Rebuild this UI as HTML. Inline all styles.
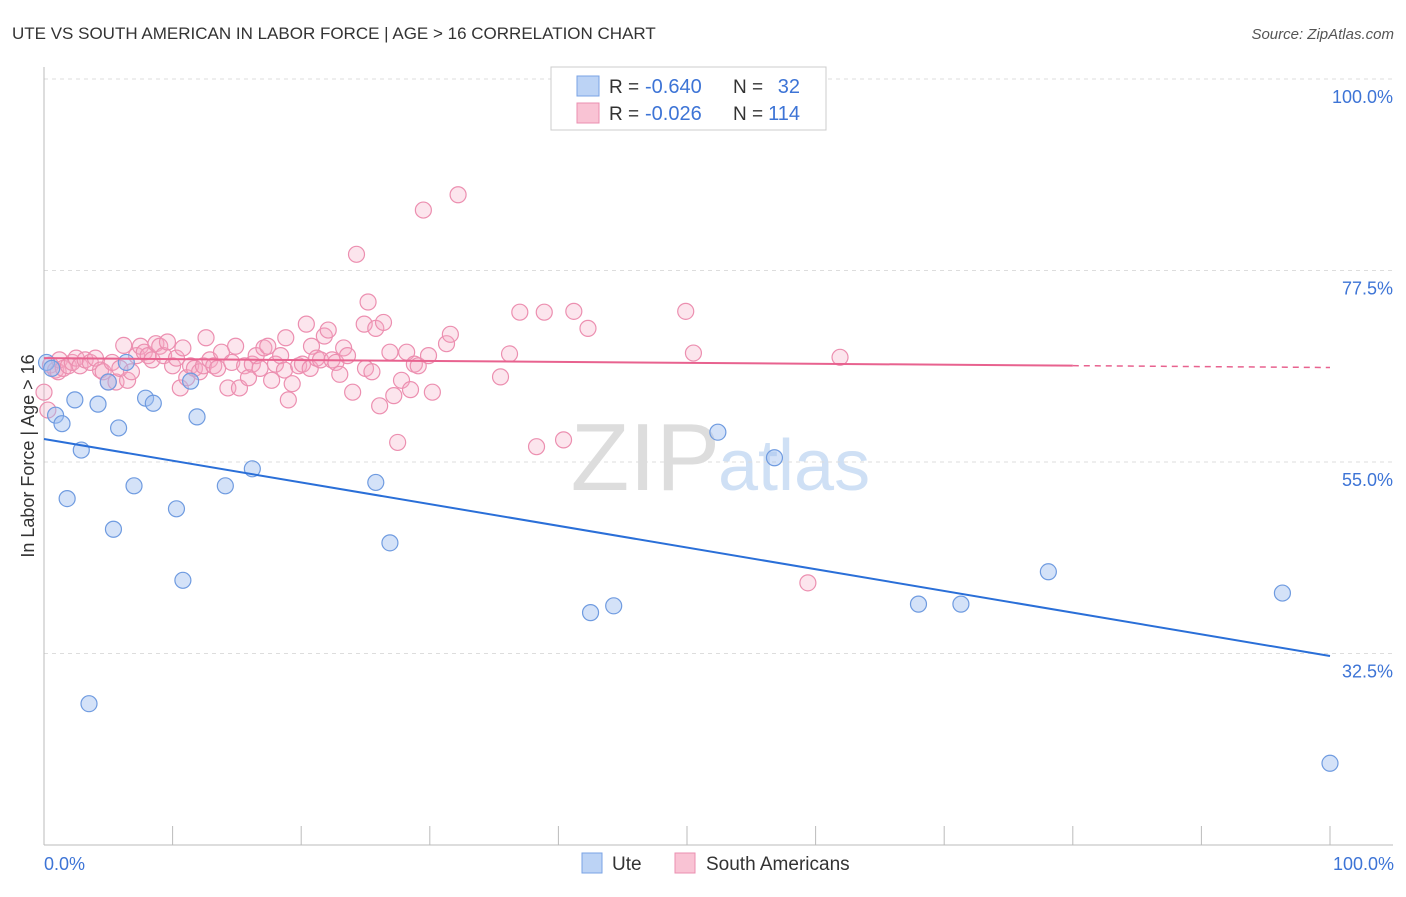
<!DOCTYPE html>
<html><head><meta charset="utf-8"><style>
body{margin:0;background:#fff;font-family:"Liberation Sans",sans-serif}
svg text{font-family:"Liberation Sans",sans-serif}
</style></head><body>
<svg id="chart" width="1406" height="892">
<text x="12" y="39" font-size="17" fill="#333">UTE VS SOUTH AMERICAN IN LABOR FORCE | AGE &gt; 16 CORRELATION CHART</text>
<text x="1394" y="39" font-size="15" fill="#555" font-style="italic" text-anchor="end">Source: ZipAtlas.com</text>
<text x="720" y="490" font-size="96" fill="#ddd" text-anchor="end" font-family="Liberation Serif">ZIP</text>
<text x="718" y="490" font-size="72" fill="#cfe0f5">atlas</text>
<g id="grid"></g><g id="axes"></g><g id="pts"></g><g id="trend"></g>
<text x="34" y="456" font-size="18" fill="#333" text-anchor="middle" transform="rotate(-90 34 456)">In Labor Force | Age &gt; 16</text>
<text x="44" y="870" font-size="18" fill="#3d74d6">0.0%</text>
<text x="1394" y="870" font-size="18" fill="#3d74d6" text-anchor="end">100.0%</text>
<g>
<rect x="551" y="67" width="275" height="63" fill="#fff" stroke="#ccc"/>
<rect x="577" y="76" width="22" height="20" fill="#bcd3f5" stroke="#7aa3e5"/>
<rect x="577" y="103" width="22" height="20" fill="#f9c3d4" stroke="#eb8fb0"/>
<text x="609" y="93" font-size="19" fill="#333">R =</text>
<text x="645" y="93" font-size="20" fill="#3d74d6">-0.640</text>
<text x="733" y="93" font-size="19" fill="#333">N =</text>
<text x="800" y="93" font-size="20" fill="#3d74d6" text-anchor="end">32</text>
<text x="609" y="120" font-size="19" fill="#333">R =</text>
<text x="645" y="120" font-size="20" fill="#3d74d6">-0.026</text>
<text x="733" y="120" font-size="19" fill="#333">N =</text>
<text x="800" y="120" font-size="20" fill="#3d74d6" text-anchor="end">114</text>
</g>
<g>
<rect x="582" y="853" width="20" height="20" fill="#bcd3f5" stroke="#7aa3e5"/>
<text x="612" y="870" font-size="19" fill="#333">Ute</text>
<rect x="675" y="853" width="20" height="20" fill="#f9c3d4" stroke="#eb8fb0"/>
<text x="706" y="870" font-size="19" fill="#333">South Americans</text>
</g>
</svg>
<script>
const yTicks=[100,77.5,55,32.5];
const yTickLabels=["100.0%","77.5%","55.0%","32.5%"];
const xTicks=[0,10,20,30,40,50,60,70,80,90,100];
const uteX=[0.2,0.6,0.9,1.4,1.8,2.4,2.9,3.5,4.2,5.0,5.4,5.8,6.4,7.0,7.9,8.5,10.3,10.8,11.4,11.9,14.1,16.2,25.8,26.9,42.5,44.3,52.4,56.8,68.0,71.3,78.1,96.3,100];
const uteY=[66.7,66.0,60.5,59.5,50.7,62.3,56.4,26.6,61.8,64.4,47.1,59.0,66.7,52.2,62.5,61.9,49.5,41.1,64.5,60.3,52.2,54.2,52.6,45.5,37.3,38.1,58.5,55.5,38.3,38.3,42.1,39.6,19.6];
const saX=[0.5,0.9,1.1,1.2,1.5,1.9,2.2,2.5,2.8,3.2,3.6,4.0,4.4,4.6,5.0,5.3,5.6,5.9,6.2,6.5,6.8,7.2,7.5,7.8,8.1,8.4,8.7,9.0,9.3,9.6,10.0,10.3,10.6,10.8,11.1,11.4,11.7,12.1,12.4,12.6,12.9,13.2,13.5,13.8,14.3,14.6,14.9,15.2,15.6,15.9,16.2,16.5,16.8,17.1,17.4,17.7,18.0,18.4,18.7,19.0,19.3,18.8,19.8,20.1,20.4,20.7,20.8,21.2,21.5,21.8,22.1,22.4,22.7,23.0,23.3,23.6,24.0,24.3,24.9,25.0,25.2,25.5,25.8,26.1,26.4,26.9,27.2,27.5,27.8,28.2,28.5,28.8,29.1,29.5,29.9,30.2,31.3,31.6,32.2,35.5,36.2,37.0,38.3,38.9,40.4,41.2,42.3,49.9,50.5,59.4,61.9,0,0.3];
const saY=[66.4,65.8,65.6,67.0,66.0,66.3,66.7,67.2,66.3,67.0,66.7,67.2,65.8,65.6,64.4,66.7,64.4,66.0,68.7,64.6,65.6,67.5,68.6,67.9,67.5,67.0,68.9,68.6,67.5,69.1,66.3,67.2,63.7,68.4,64.9,66.3,66.0,65.6,66.3,69.6,67.0,66.3,66.0,67.9,63.7,66.7,68.6,63.7,66.3,64.9,66.5,67.5,66.0,68.4,68.6,64.6,66.5,67.5,65.8,62.3,64.2,69.6,66.3,66.5,71.2,66.0,68.6,67.2,67.0,69.8,70.5,67.0,66.7,65.3,68.4,67.5,63.2,79.4,71.2,66.0,73.8,65.6,70.7,61.6,71.4,67.9,62.8,57.3,64.6,67.9,63.5,66.5,66.3,84.6,67.5,63.2,68.9,70.0,86.4,65.0,67.7,72.6,56.8,72.6,57.6,72.7,70.7,72.7,67.8,40.8,67.3,63.2,61.1];
const uteTrend=[57.7,32.2];
const saTrend=[67.2,66.1];
const NS="http://www.w3.org/2000/svg";
const xs=v=>44+v*12.86, ys=v=>79+(100-v)*8.511;
function mk(parent,tag,attrs){const e=document.createElementNS(NS,tag);for(const k in attrs)e.setAttribute(k,attrs[k]);document.getElementById(parent).appendChild(e);return e;}
yTicks.forEach((t,i)=>{
 const l=mk('grid','line',{x1:44,x2:1393,y1:ys(t),y2:ys(t),stroke:'#ddd','stroke-dasharray':'4,4'});
 
 
 const tx=mk('grid','text',{x:1393,y:ys(t)+24,'font-size':18,fill:'#3d74d6','text-anchor':'end'});
 tx.textContent=yTickLabels[i];
 
 
});
const ya=mk('axes','line',{x1:44,x2:44,y1:67,y2:845,stroke:'#bbb'});


const xa=mk('axes','line',{x1:44,x2:1393,y1:845,y2:845,stroke:'#bbb'});


xTicks.forEach(t=>{
 const l=mk('axes','line',{x1:xs(t),x2:xs(t),y1:826,y2:845,stroke:'#bbb'});
 
 
});
saX.forEach((x,i)=>{
 const c=mk('pts','circle',{cx:xs(x),cy:ys(saY[i]),r:8,fill:'rgba(245,170,195,0.3)',stroke:'#ec8fb0','stroke-width':1.2});
 
 
});
uteX.forEach((x,i)=>{
 const c=mk('pts','circle',{cx:xs(x),cy:ys(uteY[i]),r:8,fill:'rgba(160,190,240,0.45)',stroke:'#6f9be0','stroke-width':1.2});
 
 
});
const ut=mk('trend','line',{x1:xs(0),y1:ys(uteTrend[0]),x2:xs(100),y2:ys(uteTrend[1]),stroke:'#2a6fd8','stroke-width':2});


const sm=saTrend[0]+(saTrend[1]-saTrend[0])*0.8;
const st=mk('trend','line',{x1:xs(0),y1:ys(saTrend[0]),x2:xs(80),y2:ys(sm),stroke:'#e8628f','stroke-width':2});


const sd=mk('trend','line',{x1:xs(80),y1:ys(sm),x2:xs(100),y2:ys(saTrend[1]),stroke:'#e8628f','stroke-width':1.5,'stroke-dasharray':'6,5'});


</script>
</body></html>
